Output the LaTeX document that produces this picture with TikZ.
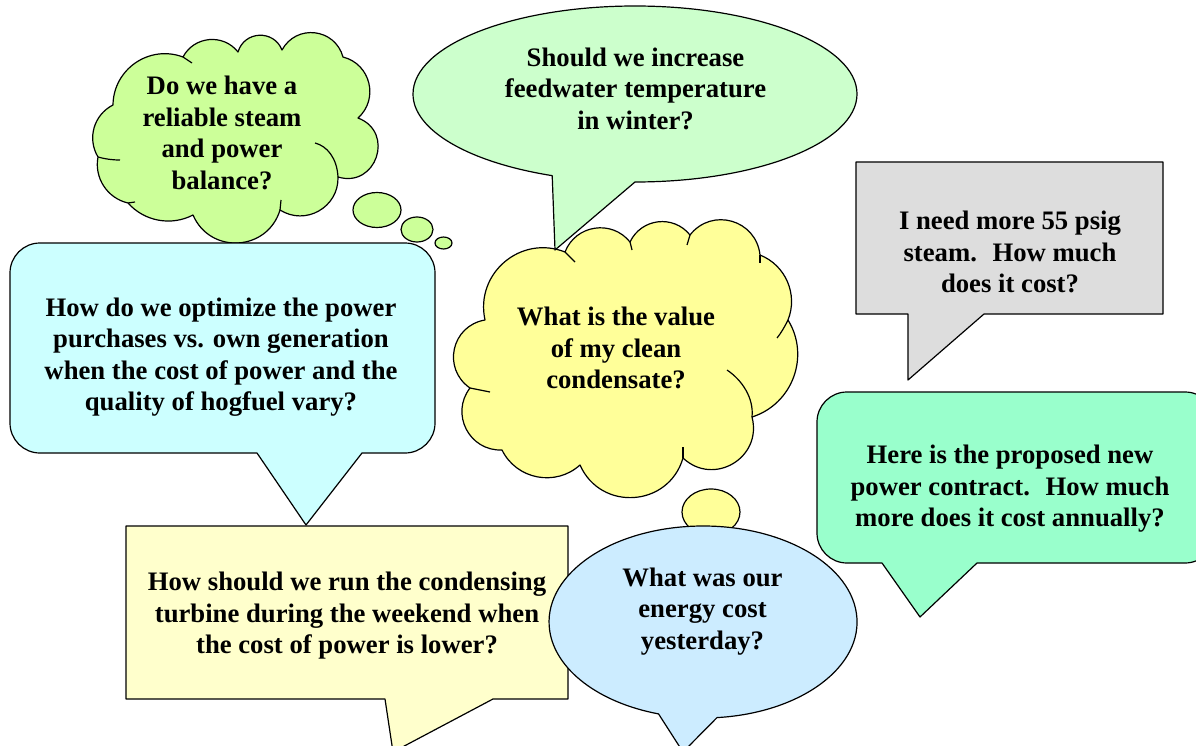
\documentclass[tikz,border=0pt]{standalone}
\usepackage{fontspec}
\setmainfont{Liberation Serif}
\definecolor{cgreen}{HTML}{CCFF99}
\definecolor{egreen}{HTML}{CCFFCC}
\definecolor{cyellow}{HTML}{FFFF99}
\definecolor{bcyan}{HTML}{CCFFFF}
\definecolor{bgray}{HTML}{DDDDDD}
\definecolor{bmint}{HTML}{99FFCC}
\definecolor{byellow}{HTML}{FFFFCC}
\definecolor{eblue}{HTML}{CCECFF}
\begin{document}
\begin{tikzpicture}[x=1pt,y=1pt,line width=1.2pt,line join=round,
  shapeline/.style={draw=black,line width=1.2pt},
  stub/.style={draw=black,line width=1.2pt},
  txt/.style={align=center,inner sep=0pt,font=\fontsize{26.7}{31.5}\selectfont\bfseries}]
\useasboundingbox (0,-746) rectangle (1196,0);
\clip (0,-746) rectangle (1196,0);
% green cloud
\path[shapeline,fill=cgreen] (113,-105)
  to[bend left=55,looseness=1.08] (183,-57)
  to[bend left=57,looseness=1.10] (238,-52)
  to[bend left=71,looseness=1.29] (282,-50)
  to[bend left=68,looseness=1.25] (343,-57)
  to[bend left=62,looseness=1.16] (358,-118)
  to[bend left=88,looseness=1.64] (338,-177)
  to[bend left=62,looseness=1.16] (280,-210)
  to[bend left=70,looseness=1.27] (193,-215)
  to[bend left=38,looseness=0.95] (128,-203)
  to[bend left=44,looseness=0.99] (98,-157)
  to[bend left=47,looseness=1.02] (113,-105) -- cycle;
\path[stub] (338,-177) .. controls (337,-158) and (327,-146) .. (315,-143);
\path[stub] (98,-157) .. controls (105,-159) and (112,-160) .. (120,-160);
\path[stub] (183,-57) -- (192,-63);
\path[stub] (280,-210) -- (281,-200);
\path[stub] (128,-203) -- (135,-202);
% green thought bubbles
\path[shapeline,fill=cgreen] (377,-210) ellipse[x radius=24,y radius=17.5];
\path[shapeline,fill=cgreen] (417,-229.5) ellipse[x radius=16,y radius=12.5];
\path[shapeline,fill=cgreen] (443.5,-243) ellipse[x radius=8.5,y radius=6];
% yellow cloud
\path[shapeline,fill=cyellow] (485,-320)
  to[bend left=62,looseness=1.16] (565,-252)
  to[bend left=60,looseness=1.14] (630,-242)
  to[bend left=58,looseness=1.12] (690,-235)
  to[bend left=68,looseness=1.25] (760,-255)
  to[bend left=45,looseness=1.0] (788,-320)
  to[bend left=52,looseness=1.05] (752,-417)
  to[bend left=74,looseness=1.34] (683,-458)
  to[bend left=70,looseness=1.27] (580,-465)
  to[bend left=53,looseness=1.06] (502,-450)
  to[bend left=65,looseness=1.20] (470,-388)
  to[bend left=68,looseness=1.25] (485,-320) -- cycle;
\path[stub] (565,-252) -- (575,-262);
\path[stub] (630,-242) -- (632,-250);
\path[stub] (690,-235) -- (687,-245);
\path[stub] (760,-255) -- (760,-263);
\path[stub] (788,-320) .. controls (784,-328) and (781,-333) .. (777,-338);
\path[stub] (752,-417) .. controls (754,-398) and (742,-380) .. (727,-370);
\path[stub] (683,-458) -- (683,-447);
\path[stub] (470,-388) -- (490,-392);
% green ellipse callout
\path[shapeline,fill=egreen] (635,-182) arc[start angle=270,end angle=608.1,x radius=222,y radius=88] -- (555,-250) -- cycle;
% cyan rounded callout
\path[shapeline,fill=bcyan] (257,-453) -- (306,-525) -- (362,-453) [rounded corners=30] -- (435,-453) -- (435,-243) -- (10,-243) -- (10,-453) [sharp corners] -- (257,-453) -- cycle;
% gray callout
\path[shapeline,fill=bgray] (908,-314) -- (908,-380) -- (984,-314) -- (1163,-314) -- (1163,-162) -- (856,-162) -- (856,-314) -- cycle;
% mint rounded callout
\path[shapeline,fill=bmint] (882,-563) -- (920,-617) -- (977,-563) [rounded corners=30] -- (1215,-563) -- (1215,-392) -- (817,-392) -- (817,-563) [sharp corners] -- (882,-563) -- cycle;
% yellow rect callout
\path[shapeline,fill=byellow] (385,-699) -- (393,-752) -- (493,-699) -- (568,-699) -- (568,-526) -- (126,-526) -- (126,-699) -- cycle;
% yellow thought bubble
\path[shapeline,fill=cyellow] (711,-512) ellipse[x radius=29,y radius=23];
% blue ellipse callout
\path[shapeline,fill=eblue] (717,-717.6) arc[start angle=275.2,end angle=613.2,x radius=154,y radius=96] -- (683,-752) -- cycle;
% texts
\node[txt] (t1) at (222,-133) {Do we have a\\reliable steam\\and power\\balance?};
\node[txt] (t2) at (635.5,-88.5) {Should we increase\\feedwater temperature\\in winter?};
\node[txt] (t3) at (616,-348) {What is the value\\of my clean\\condensate?};
\node[txt] (t4) at (221,-357) {How do we optimize the power\\purchases vs. own generation\\when the cost of power and the\\quality of hogfuel vary?};
\node[txt] (t5) at (1010,-252) {I need more 55 psig\\steam.~ How much\\does it cost?};
\node[txt] (t6) at (1010,-489) {Here is the proposed new\\power contract.~ How much\\more does it cost annually?};
\node[txt] (t7) at (347,-616) {How should we run the condensing\\turbine during the weekend when\\the cost of power is lower?};
\node[txt] (t8) at (702.5,-611.5) {What was our\\energy cost\\yesterday?};
\end{tikzpicture}
\end{document}
